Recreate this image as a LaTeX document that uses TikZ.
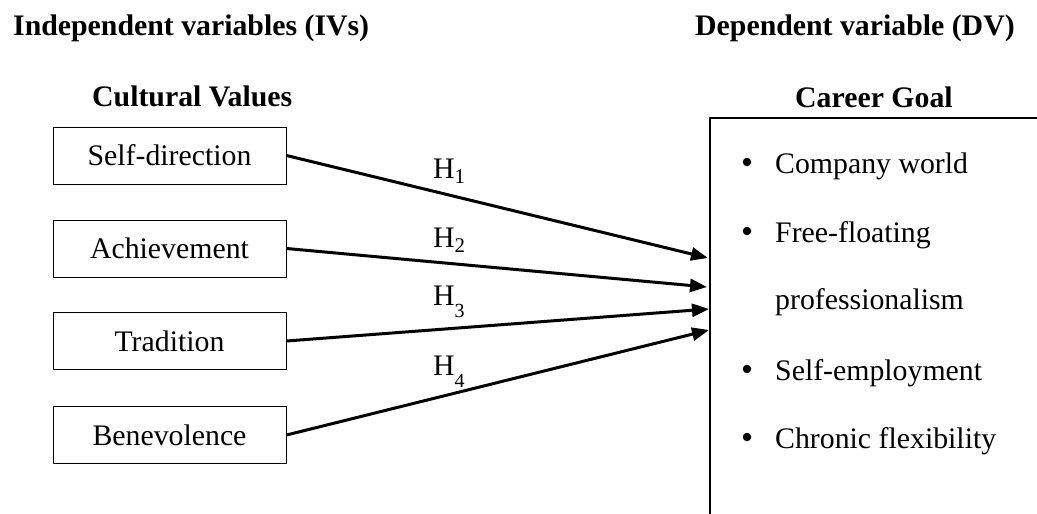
\documentclass[tikz,border=0pt]{standalone}
\usepackage{fontspec}
\setmainfont{Liberation Serif}
\usetikzlibrary{arrows.meta}
\newcommand{\hlow}[1]{H\raisebox{-.42em}{\fontsize{20}{24}\selectfont #1}}
\tikzset{
	varbox/.style={draw, line width=1pt, minimum width=233pt, minimum height=57pt, inner sep=0pt},
	txt/.style={anchor=base west, inner sep=0pt},
	head/.style={txt, font=\fontsize{29.8}{36}\selectfont\bfseries},
	dot/.style={circle, fill, inner sep=0pt, minimum size=8.5pt},
	link/.style={->, line width=3pt}
}
\begin{document}
\begin{tikzpicture}[x=1pt, y=-1pt, font=\fontsize{29.8}{36}\selectfont, line join=round, >={Triangle[length=17pt,width=13pt]}]
	\useasboundingbox (0,0) rectangle (1037,514);
	% Tiêu đề
	\node[head] (iv) at (13,35) {Independent variables (IVs)};
	\node[head] (dv) at (695,35) {Dependent variable (DV)};
	\node[head] (cv) at (92,106) {Cultural Values};
	\node[head] (cg) at (795,107) {Career Goal};
	% Các biến độc lập
	\node[varbox] (sd) at (169.5,155.5) {Self-direction};
	\node[varbox] (ac) at (169.5,248.5) {Achievement};
	\node[varbox] (tr) at (169.5,341) {Tradition};
	\node[varbox] (be) at (169.5,435) {Benevolence};
	% Khung biến phụ thuộc
	\coordinate (gtl) at (710,118);
	\draw[line width=2.2pt] (1037,118) -- (gtl) -- (710,514);
	\coordinate (e1) at (708,258); \coordinate (e2) at (707,287);
	\coordinate (e3) at (709,309); \coordinate (e4) at (709,330);
	\node[dot] (b1) at (747,162) {};
	\node[txt] (cw) at (775,173) {Company world};
	\node[dot] (b2) at (747,231) {};
	\node[txt] (ff) at (775,242) {Free-floating};
	\node[txt] (pr) at (775,309) {professionalism};
	\node[dot] (b3) at (747,369) {};
	\node[txt] (se) at (775,380) {Self-employment};
	\node[dot] (b4) at (747,437) {};
	\node[txt] (cf) at (775,448) {Chronic flexibility};
	% Giả thuyết
	\draw[link] (sd.east) -- (e1);
	\draw[link] (ac.east) -- (e2);
	\draw[link] (tr.east) -- (e3);
	\draw[link] (be.east) -- (e4);
	\node[txt] (h1) at (433,178) {H\textsubscript{1}};
	\node[txt] (h2) at (433,247) {H\textsubscript{2}};
	\node[txt] (h3) at (433,305) {\hlow{3}};
	\node[txt] (h4) at (433,375) {\hlow{4}};
\end{tikzpicture}
\end{document}
